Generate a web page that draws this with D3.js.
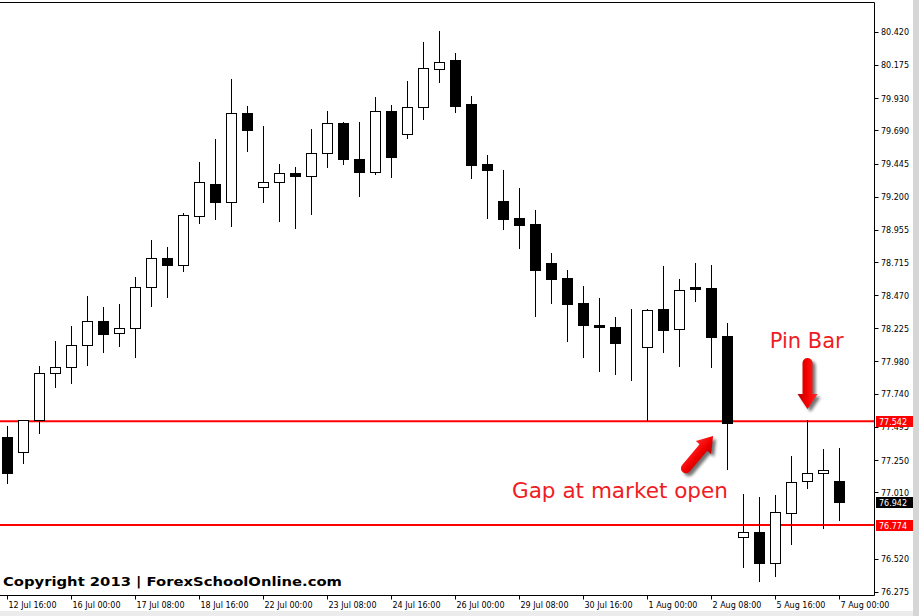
<!DOCTYPE html>
<html>
<head>
<meta charset="utf-8">
<script src="https://cdn.jsdelivr.net/npm/d3@7/dist/d3.min.js"></script>
<style>
  body { margin: 0; background: #fff; }
  svg { display: block; }
</style>
</head>
<body>
<div id="chart"></div>
<script>
// H8 candles, 12 Jul 16:00 -> 7 Aug 00:00 (53 bars)
const opens = [
  77.422, 77.311, 77.545, 77.896, 77.940, 78.100, 78.281, 78.192, 78.226, 78.533,
  78.747, 78.695, 79.058, 79.295, 79.159, 79.820, 79.273, 79.310, 79.376, 79.354,
  79.524, 79.746, 79.480, 79.384, 79.837, 79.665, 79.862, 80.146, 80.208, 79.882,
  79.438, 79.171, 79.045, 79.001, 78.712, 78.601, 78.416, 78.253, 78.236, 78.118,
  78.088, 78.370, 78.219, 78.533, 78.520, 78.172, 76.682, 76.719, 76.487, 76.860,
  77.089, 77.156, 77.097
];
const highs = [
  77.506, 77.548, 77.950, 78.135, 78.246, 78.468, 78.387, 78.409, 78.609, 78.883,
  78.831, 79.080, 79.458, 79.630, 80.072, 79.874, 79.726, 79.445, 79.423, 79.704,
  79.837, 79.756, 79.756, 79.941, 79.882, 80.060, 80.348, 80.430, 80.267, 79.948,
  79.512, 79.401, 79.268, 79.105, 78.786, 78.661, 78.542, 78.453, 78.313, 78.372,
  78.372, 78.690, 78.592, 78.710, 78.698, 78.268, 77.003, 76.980, 76.995, 77.284,
  77.550, 77.333, 77.343
];
const lows = [
  77.079, 77.227, 77.449, 77.789, 77.819, 77.952, 78.048, 78.093, 78.011, 78.389,
  78.456, 78.646, 79.003, 79.033, 78.981, 79.536, 79.159, 79.018, 78.966, 79.070,
  79.418, 79.440, 79.203, 79.366, 79.344, 79.632, 79.773, 80.047, 79.825, 79.336,
  79.040, 78.959, 78.818, 78.315, 78.411, 78.130, 78.011, 77.908, 77.886, 77.841,
  77.540, 78.048, 77.945, 78.424, 77.937, 77.180, 76.453, 76.353, 76.390, 76.627,
  77.042, 76.746, 76.805
];
const closes = [
  77.153, 77.545, 77.896, 77.940, 78.103, 78.281, 78.182, 78.226, 78.533, 78.747,
  78.692, 79.065, 79.310, 79.159, 79.820, 79.692, 79.310, 79.376, 79.351, 79.524,
  79.746, 79.477, 79.381, 79.837, 79.499, 79.865, 80.154, 80.198, 79.869, 79.433,
  79.396, 79.040, 78.996, 78.663, 78.596, 78.411, 78.256, 78.235, 78.115, 78.118,
  78.362, 78.211, 78.510, 78.515, 78.159, 77.526, 76.719, 76.487, 76.867, 77.089,
  77.151, 77.178, 76.942
];

const timeTickIndex = [0, 4, 8, 12, 16, 20, 24, 28, 32, 36, 40, 44, 48, 52];
const timeTickLabels = [
  '12 Jul 16:00', '16 Jul 00:00', '17 Jul 08:00', '18 Jul 16:00', '22 Jul 00:00',
  '23 Jul 08:00', '24 Jul 16:00', '26 Jul 00:00', '29 Jul 08:00', '30 Jul 16:00',
  '1 Aug 00:00', '2 Aug 08:00', '5 Aug 16:00', '7 Aug 00:00'
];
// 76.765 sits fully under the 76.774 tag in the reference, so it is left out
const priceTicks = [
  80.420, 80.175, 79.930, 79.690, 79.445, 79.200, 78.955, 78.715, 78.470, 78.225,
  77.980, 77.740, 77.495, 77.250, 77.010, 76.520, 76.275
];
const levelLines = [77.542, 76.774];
const bidPrice = 76.942;

// annotations, in candle index / price
const arrowNotes = [
  { from: [42.2, 77.165], to: [44.1, 77.432] },   // gap
  { from: [50.0, 78.009], to: [50.0, 77.632] }    // pin bar
];
const textNotes = [
  { text: 'Gap at market open', at: [31.53, 76.975], len: 216 },
  { text: 'Pin Bar', at: [47.64, 78.083], len: 74 }
];

const W = 919, H = 616;
const plotRight = 874.5, plotTop = 2.5, plotBottom = 595.5;

const svg = d3.select('#chart').append('svg')
  .attr('width', W).attr('height', H)
  .attr('font-family', '"DejaVu Sans", sans-serif');

const x = d3.scaleLinear().domain([0, 52]).range([7.5, 839.5]);
const y = d3.scaleLinear().domain([76.275, 80.420]).range([592.3, 32.3]);
const snap = (v) => Math.round(v - 0.5) + 0.5;

// window edges (light grey)
svg.append('rect').attr('x', 913).attr('y', 0).attr('width', 6).attr('height', H).attr('fill', '#d6d6d6');
svg.append('rect').attr('x', 0).attr('y', 611).attr('width', 913).attr('height', 5).attr('fill', '#ececec');

const g = svg.append('g');

// horizontal levels
g.selectAll('.level')
  .data(levelLines)
  .enter()
  .append('line')
  .attr('x1', 0).attr('x2', plotRight)
  .attr('y1', (d) => y(d)).attr('y2', (d) => y(d))
  .attr('stroke', '#ff0000')
  .attr('stroke-width', 2);

const bars = d3.range(opens.length).map((i) => ({
  i, o: opens[i], h: highs[i], l: lows[i], c: closes[i]
}));

// wicks
g.selectAll('.wick')
  .data(bars)
  .enter()
  .append('line')
  .attr('x1', (d) => x(d.i)).attr('x2', (d) => x(d.i))
  .attr('y1', (d) => Math.round(y(d.h))).attr('y2', (d) => Math.round(y(d.l)))
  .attr('stroke', '#000')
  .attr('stroke-width', 1);

// bodies
g.selectAll('.body')
  .data(bars)
  .enter()
  .append('rect')
  .attr('x', (d) => x(d.i) - 5)
  .attr('width', 10)
  .attr('y', (d) => snap(Math.min(y(d.o), y(d.c))))
  .attr('height', (d) => Math.max(0, Math.round(Math.abs(y(d.o) - y(d.c)))))
  .attr('fill', (d) => d.c >= d.o ? '#fff' : '#000')
  .attr('stroke', '#000')
  .attr('stroke-width', 1)
  .attr('shape-rendering', 'crispEdges');

// frame
g.append('path')
  .attr('d', `M0,${plotTop}H${plotRight}V${plotBottom}H0`)
  .attr('fill', 'none')
  .attr('stroke', '#000')
  .attr('stroke-width', 1);

// price axis
g.selectAll('.ptick')
  .data(priceTicks)
  .enter()
  .append('line')
  .attr('x1', plotRight).attr('x2', plotRight + 4)
  .attr('y1', (d) => snap(y(d))).attr('y2', (d) => snap(y(d)))
  .attr('stroke', '#000');
g.selectAll('.plabel')
  .data(priceTicks)
  .enter()
  .append('text')
  .attr('x', 881)
  .attr('y', (d) => y(d) + 3)
  .attr('font-size', 8)
  .attr('fill', '#000')
  .text((d) => d.toFixed(3));

// price tags (levels + bid)
const tags = levelLines.map((v) => ({ v, fill: '#ff0000' }))
  .concat([{ v: bidPrice, fill: '#000' }]);
const tag = g.selectAll('.tag').data(tags).enter().append('g');
tag.append('rect')
  .attr('x', 876).attr('width', 37)
  .attr('y', (d) => Math.round(y(d.v)) - 5).attr('height', 11)
  .attr('fill', (d) => d.fill);
tag.append('text')
  .attr('x', 879)
  .attr('y', (d) => Math.round(y(d.v)) + 3.5)
  .attr('font-size', 8)
  .attr('fill', '#fff')
  .text((d) => d.v.toFixed(3));

// time axis
g.selectAll('.ttick')
  .data(timeTickIndex)
  .enter()
  .append('line')
  .attr('x1', (d) => x(d)).attr('x2', (d) => x(d))
  .attr('y1', plotBottom).attr('y2', plotBottom + 4)
  .attr('stroke', '#000');
g.selectAll('.tlabel')
  .data(timeTickIndex)
  .enter()
  .append('text')
  .attr('x', (d) => x(d) + 1)
  .attr('y', 608)
  .attr('font-size', 8)
  .attr('fill', '#000')
  .text((d, k) => timeTickLabels[k]);

// annotations
const defs = svg.append('defs');
defs.append('filter').attr('id', 'shadow').attr('x', '-50%').attr('y', '-50%').attr('width', '200%').attr('height', '200%')
  .append('feGaussianBlur').attr('stdDeviation', 1.6);
const grad = defs.append('linearGradient').attr('id', 'arrowFill')
  .attr('x1', 0).attr('y1', 0).attr('x2', 0).attr('y2', 1);
grad.append('stop').attr('offset', '0%').attr('stop-color', '#ff2a2a');
grad.append('stop').attr('offset', '55%').attr('stop-color', '#f20000');
grad.append('stop').attr('offset', '100%').attr('stop-color', '#b80000');

function arrowPath(len) {
  // tail at origin, pointing along +x
  const sw = 5, hw = 10, hl = 15;
  return `M${len},0 L${len - hl},${-hw} L${len - hl},${-sw} L${sw},${-sw}` +
    ` A${sw},${sw} 0 0 0 ${sw},${sw} L${len - hl},${sw} L${len - hl},${hw} Z`;
}

arrowNotes.forEach((a) => {
  const x0 = x(a.from[0]), y0 = y(a.from[1]);
  const x1 = x(a.to[0]), y1 = y(a.to[1]);
  const len = Math.hypot(x1 - x0, y1 - y0);
  const ang = Math.atan2(y1 - y0, x1 - x0) * 180 / Math.PI;
  g.append('path')
    .attr('d', arrowPath(len))
    .attr('transform', `translate(${x0 + 3},${y0 + 3}) rotate(${ang})`)
    .attr('fill', 'rgba(0,0,0,0.55)')
    .attr('filter', 'url(#shadow)');
  g.append('path')
    .attr('d', arrowPath(len))
    .attr('transform', `translate(${x0},${y0}) rotate(${ang})`)
    .attr('fill', 'url(#arrowFill)');
});

g.selectAll('.note')
  .data(textNotes)
  .enter()
  .append('text')
  .attr('x', (d) => x(d.at[0]))
  .attr('y', (d) => y(d.at[1]))
  .attr('font-size', 21)
  .attr('fill', '#f01c24')
  .attr('textLength', (d) => d.len)
  .attr('lengthAdjust', 'spacingAndGlyphs')
  .text((d) => d.text);

// watermark
svg.append('text')
  .attr('x', 3).attr('y', 586)
  .attr('font-size', 13)
  .attr('font-weight', 'bold')
  .attr('fill', '#000')
  .attr('textLength', 339)
  .attr('lengthAdjust', 'spacingAndGlyphs')
  .text('Copyright 2013 | ForexSchoolOnline.com');
</script>
</body>
</html>
